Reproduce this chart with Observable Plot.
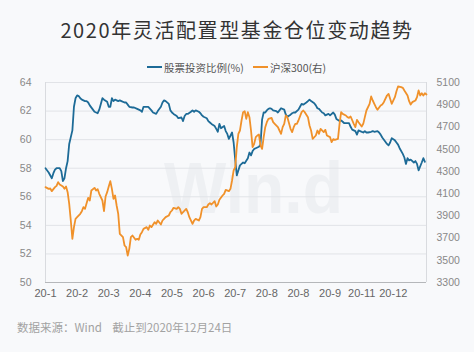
<!DOCTYPE html>
<html>
<head>
<meta charset="utf-8">
<script src="https://cdn.jsdelivr.net/npm/d3@7"></script>
<script src="https://cdn.jsdelivr.net/npm/@observablehq/plot@0.6"></script>
<style>
  body { margin: 0; background: #ffffff; }
  #wrap { position: relative; width: 474px; height: 352px; background: #f8f9fb; overflow: hidden;
          font-family: "Liberation Sans", "Noto Sans CJK SC", sans-serif; }
  #title { position: absolute; top: 16px; left: 0; width: 474px; text-align: center;
           font-family: "Noto Sans CJK SC", sans-serif; font-size: 20px; line-height: 28px;
           letter-spacing: 1.6px; color: #333; }
  .leg { position: absolute; top: 60px; height: 14px; display: flex; align-items: center;
         font-family: "Noto Sans CJK SC", sans-serif; font-size: 10.5px; color: #555; white-space: nowrap; }
  .leg i { display: inline-block; width: 15px; height: 2px; margin-right: 2px; }
  #wm { position: absolute; left: 164px; top: 144px; font-family: "Liberation Sans", Arial, sans-serif;
        font-weight: bold; font-size: 66px; line-height: 80px; color: #eef0f3; transform: scale(1, 1.1);
        transform-origin: left top; }
  #chart { position: absolute; left: 0; top: 74px; }
  #foot { position: absolute; left: 17px; top: 319px; font-family: "Noto Sans CJK SC", sans-serif;
          font-size: 11.5px; color: #a2a2a2; white-space: pre; }
</style>
</head>
<body>
<div id="wrap">
  <div id="wm">Win.d</div>
  <div id="title"></div>
  <div id="legend"></div>
  <div id="chart"></div>
  <div id="foot"></div>
</div>
<script>
const titleText = "2020年灵活配置型基金仓位变动趋势";
const footText = "数据来源：Wind    截止到2020年12月24日";
const seriesNames = ["股票投资比例(%)", "沪深300(右)"];
const seriesColors = ["#1d6b97", "#f0912a"];

// x: trading-day index (2020-01-02 = 0)
const xTickDays = [0, 20, 40, 60, 80, 100, 120, 140, 160, 180, 200, 220];
const xTickLabels = ["20-1", "20-2", "20-3", "20-4", "20-5", "20-6", "20-7", "20-8", "20-8", "20-9", "20-11", "20-12"];
const leftTicks = [50, 52, 54, 56, 58, 60, 62, 64];
const rightTicks = [3300, 3500, 3700, 3900, 4100, 4300, 4500, 4700, 4900, 5100];
const dayDomain = [0, 241];

// 股票投资比例 (%), [day, value]
const equityRatio = [
[0,58.0],[2,57.7],[4,57.3],[5,57.65],[6,57.9],[7,58.0],[9,58.0],[10,57.8],[11,57.1],[12,57.3],
[13,58.0],[14,58.5],[15,59.7],[17,60.65],[18,62.3],[19,62.9],[20,63.1],[21,63.05],[22,62.9],[23,62.8],
[25,62.7],[26,62.7],[27,62.6],[28,62.4],[30,62.1],[31,61.95],[33,61.85],[34,62.1],[35,62.5],[36,62.9],
[37,62.8],[39,62.65],[40,62.3],[41,62.3],[42,62.9],[43,62.7],[44,62.8],[46,62.7],[47,62.75],[48,62.7],
[50,62.6],[51,62.6],[52,62.45],[53,62.3],[55,62.25],[56,62.25],[58,62.15],[60,62.05],[61,61.95],[62,62.3],
[64,62.3],[65,62.3],[67,62.05],[68,61.9],[70,61.8],[71,62.0],[73,62.3],[74,62.6],[75,62.75],[76,62.7],
[78,62.5],[79,62.05],[80,61.9],[81,61.8],[83,61.65],[84,61.5],[86,61.55],[87,61.3],[88,61.65],[89,61.8],
[90,61.8],[92,61.95],[93,62.05],[94,61.95],[95,62.05],[97,61.95],[98,61.85],[99,61.7],[100,61.6],[102,61.5],
[103,61.3],[104,61.2],[105,61.1],[107,60.95],[108,60.75],[109,60.55],[110,61.1],[111,60.8],[113,60.95],[114,60.6],
[115,60.4],[116,60.05],[118,60.5],[119,59.8],[120,58.6],[121,57.5],[122,57.85],[123,58.2],[124,58.3],[125,58.4],
[126,58.35],[128,58.7],[129,59.1],[130,58.9],[131,59.2],[132,59.35],[133,59.4],[135,59.5],[136,59.65],[137,61.4],
[138,61.9],[139,61.9],[140,62.05],[141,62.15],[142,62.2],[143,62.15],[144,62.05],[146,62.0],[147,61.9],[148,62.05],
[149,62.2],[151,62.1],[152,61.75],[153,61.6],[155,61.75],[156,61.85],[157,61.9],[158,61.9],[160,62.1],[161,62.3],
[162,62.5],[163,62.45],[165,62.6],[166,62.7],[167,62.8],[168,62.7],[170,62.55],[171,62.4],[172,62.2],[173,62.15],
[175,61.9],[176,61.85],[177,61.7],[179,61.8],[180,61.7],[182,61.9],[183,61.75],[184,61.45],[186,61.3],[187,61.35],
[188,61.25],[189,61.15],[191,61.15],[192,61.15],[193,60.9],[194,60.7],[196,60.6],[197,60.35],[198,60.65],[199,60.6],
[201,60.5],[202,60.6],[203,60.5],[204,60.5],[206,60.55],[207,60.6],[208,60.55],[210,60.6],[211,60.5],[212,60.35],
[213,60.15],[215,59.85],[216,59.7],[217,59.6],[218,59.8],[219,60.1],[221,59.95],[222,59.8],[223,59.65],[224,59.4],
[226,59.0],[227,58.75],[228,58.3],[229,58.7],[230,58.55],[231,58.6],[233,58.4],[234,58.5],[235,58.3],[236,57.85],
[238,58.4],[239,58.7],[240,58.45]
];

// 沪深300 (right axis), [day, value]
const hs300 = [
[0,4158],[2,4143],[3,4146],[4,4122],[6,4158],[7,4170],[8,4203],[9,4182],[11,4164],[12,4143],
[13,4164],[14,4113],[15,4008],[16,3858],[17,3693],[18,3798],[19,3873],[20,3888],[22,3918],[23,3942],
[24,3978],[25,3963],[27,4062],[28,4038],[29,4128],[31,4152],[32,4128],[33,4140],[34,4098],[36,4038],
[37,3942],[38,4074],[39,4113],[40,4164],[41,4212],[42,4143],[43,4053],[44,4083],[45,3993],[46,3918],
[47,3738],[49,3708],[50,3633],[51,3618],[52,3543],[53,3603],[54,3708],[55,3723],[57,3684],[58,3693],
[59,3684],[60,3732],[61,3753],[62,3783],[64,3798],[65,3774],[66,3813],[67,3798],[69,3843],[70,3828],
[71,3858],[73,3822],[74,3858],[75,3873],[76,3888],[78,3903],[79,3933],[80,3948],[81,3972],[83,3963],
[84,3978],[85,3963],[86,3918],[88,3948],[89,3963],[90,3933],[91,3888],[93,3828],[94,3858],[95,3873],
[97,3858],[98,3888],[99,3963],[100,3978],[102,3978],[103,4002],[104,4014],[105,4002],[107,4032],[108,3984],
[109,4002],[110,4044],[112,4083],[113,4098],[114,4134],[116,4122],[117,4143],[118,4218],[119,4308],[120,4338],
[121,4518],[122,4638],[123,4668],[124,4758],[125,4833],[126,4842],[127,4773],[128,4833],[129,4788],[130,4668],
[131,4518],[132,4548],[133,4608],[134,4623],[135,4632],[136,4533],[137,4503],[138,4608],[139,4698],[140,4743],
[141,4773],[143,4782],[144,4743],[145,4728],[147,4698],[148,4668],[149,4638],[150,4698],[151,4728],[152,4803],
[153,4788],[155,4683],[156,4653],[157,4698],[158,4728],[159,4728],[160,4758],[162,4833],[163,4848],[164,4833],
[166,4788],[167,4713],[168,4668],[169,4593],[171,4623],[172,4668],[173,4638],[174,4683],[176,4653],[177,4674],
[178,4623],[180,4608],[181,4563],[182,4590],[183,4584],[185,4593],[186,4728],[187,4833],[188,4818],[190,4803],
[191,4788],[192,4782],[193,4794],[195,4728],[196,4698],[197,4764],[198,4743],[200,4704],[201,4728],[202,4788],
[203,4848],[205,4908],[206,4974],[207,4938],[208,4908],[209,4878],[210,4854],[212,4893],[213,4902],[214,4923],
[216,4983],[217,4998],[218,4953],[219,4908],[221,4968],[222,5022],[223,5064],[225,5058],[226,5052],[227,5028],
[229,4983],[230,4932],[231,4902],[232,4923],[234,4938],[235,4968],[236,5028],[237,4983],[238,5004],[239,4983],
[240,5004],[241,4992]
];

// map right-axis values onto the left scale
const L0 = leftTicks[0], L1 = leftTicks[leftTicks.length - 1];
const R0 = rightTicks[0], R1 = rightTicks[rightTicks.length - 1];
const toLeft = v => L0 + (v - R0) * (L1 - L0) / (R1 - R0);

document.getElementById("title").textContent = titleText;
document.getElementById("foot").textContent = footText;
const legend = document.getElementById("legend");
[147, 253].forEach((left, i) => {
  const d = document.createElement("div");
  d.className = "leg";
  d.style.left = left + "px";
  d.innerHTML = `<i style="background:${seriesColors[i]}"></i><span></span>`;
  d.querySelector("span").textContent = seriesNames[i];
  legend.appendChild(d);
});

const chart = Plot.plot({
  width: 474,
  height: 240,
  marginTop: 8,
  marginBottom: 32,
  marginLeft: 45,
  marginRight: 48,
  style: { background: "transparent", fontFamily: "Liberation Sans, Arial, sans-serif", overflow: "visible" },
  x: { domain: dayDomain },
  y: { domain: [L0, L1] },
  marks: [
    Plot.gridY(leftTicks, { stroke: "#e1e3e7", strokeOpacity: 1 }),
    Plot.ruleX(dayDomain, { stroke: "#d9dbdf" }),
    Plot.ruleY([L0], { stroke: "#b5b7ba" }),
    Plot.line(equityRatio, { x: d => d[0], y: d => d[1], stroke: seriesColors[0], strokeWidth: 1.8 }),
    Plot.line(hs300, { x: d => d[0], y: d => toLeft(d[1]), stroke: seriesColors[1], strokeWidth: 1.8 }),
    Plot.axisX(xTickDays, { tickSize: 0, tickPadding: 7, fontSize: 11, fill: "#666", label: null,
      tickFormat: d => xTickLabels[xTickDays.indexOf(d)] }),
    Plot.axisY(leftTicks, { anchor: "left", tickSize: 0, tickPadding: 14, fontSize: 10.5, fill: "#888", label: null }),
    Plot.axisY(rightTicks.map(toLeft), { anchor: "right", tickSize: 0, tickPadding: 10, fontSize: 10.5, fill: "#888", label: null,
      tickFormat: d => String(Math.round(R0 + (d - L0) * (R1 - R0) / (L1 - L0))) })
  ]
});
document.getElementById("chart").appendChild(chart);
</script>
</body>
</html>
